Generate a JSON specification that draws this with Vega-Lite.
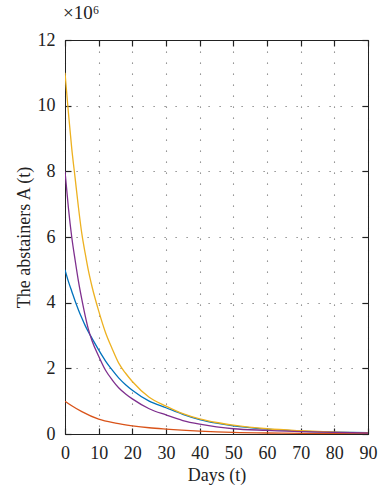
{
  "$schema": "https://vega.github.io/schema/vega-lite/v6.json",
  "width": 303,
  "height": 394,
  "autosize": "none",
  "padding": {"left": 65, "top": 40, "right": 23, "bottom": 66},
  "background": "white",
  "config": {
    "view": {"stroke": "black", "strokeWidth": 1},
    "font": "Liberation Serif",
    "axis": {
      "labelFont": "Liberation Serif",
      "titleFont": "Liberation Serif",
      "labelFontSize": 18,
      "titleFontSize": 18,
      "titleFontWeight": "normal",
      "labelColor": "#222",
      "titleColor": "#222",
      "domainColor": "#222",
      "tickColor": "#222",
      "tickWidth": 1.2,
      "gridColor": "#777",
      "gridDash": [1.2, 9.8],
      "gridWidth": 1.1
    }
  },
  "title": {
    "text": "×10⁶",
    "anchor": "start",
    "frame": "group",
    "offset": 8,
    "dx": -2,
    "font": "Liberation Serif",
    "fontSize": 19,
    "fontWeight": "normal",
    "color": "#222"
  },
  "data": {
    "values": [
      {"series": "B", "t": 0, "v": 5}, {"series": "B", "t": 1, "v": 4.65}, {"series": "B", "t": 2, "v": 4.35}, {"series": "B", "t": 3, "v": 4.05}, {"series": "B", "t": 4, "v": 3.78}, {"series": "B", "t": 5, "v": 3.53}, {"series": "B", "t": 6, "v": 3.3}, {"series": "B", "t": 7, "v": 3.1}, {"series": "B", "t": 8, "v": 2.92}, {"series": "B", "t": 10, "v": 2.56}, {"series": "B", "t": 12, "v": 2.23}, {"series": "B", "t": 14, "v": 1.95}, {"series": "B", "t": 16, "v": 1.7}, {"series": "B", "t": 18, "v": 1.5}, {"series": "B", "t": 20, "v": 1.33}, {"series": "B", "t": 25, "v": 1.0}, {"series": "B", "t": 30, "v": 0.8}, {"series": "B", "t": 35, "v": 0.6}, {"series": "B", "t": 40, "v": 0.44}, {"series": "B", "t": 45, "v": 0.33}, {"series": "B", "t": 50, "v": 0.25}, {"series": "B", "t": 60, "v": 0.15}, {"series": "B", "t": 70, "v": 0.09}, {"series": "B", "t": 80, "v": 0.06}, {"series": "B", "t": 90, "v": 0.04},
      {"series": "R", "t": 0, "v": 1}, {"series": "R", "t": 2, "v": 0.86}, {"series": "R", "t": 5, "v": 0.68}, {"series": "R", "t": 10, "v": 0.45}, {"series": "R", "t": 15, "v": 0.33}, {"series": "R", "t": 20, "v": 0.25}, {"series": "R", "t": 25, "v": 0.19}, {"series": "R", "t": 30, "v": 0.15}, {"series": "R", "t": 40, "v": 0.09}, {"series": "R", "t": 50, "v": 0.05}, {"series": "R", "t": 60, "v": 0.03}, {"series": "R", "t": 70, "v": 0.02}, {"series": "R", "t": 80, "v": 0.015}, {"series": "R", "t": 90, "v": 0.01},
      {"series": "Y", "t": 0, "v": 11}, {"series": "Y", "t": 1, "v": 9.8}, {"series": "Y", "t": 2, "v": 8.7}, {"series": "Y", "t": 3, "v": 7.8}, {"series": "Y", "t": 4, "v": 6.9}, {"series": "Y", "t": 5, "v": 6.1}, {"series": "Y", "t": 6, "v": 5.5}, {"series": "Y", "t": 7, "v": 4.95}, {"series": "Y", "t": 8, "v": 4.5}, {"series": "Y", "t": 10, "v": 3.75}, {"series": "Y", "t": 12, "v": 3.1}, {"series": "Y", "t": 14, "v": 2.6}, {"series": "Y", "t": 16, "v": 2.15}, {"series": "Y", "t": 18, "v": 1.85}, {"series": "Y", "t": 20, "v": 1.6}, {"series": "Y", "t": 25, "v": 1.12}, {"series": "Y", "t": 30, "v": 0.85}, {"series": "Y", "t": 35, "v": 0.62}, {"series": "Y", "t": 40, "v": 0.46}, {"series": "Y", "t": 45, "v": 0.35}, {"series": "Y", "t": 50, "v": 0.27}, {"series": "Y", "t": 60, "v": 0.16}, {"series": "Y", "t": 70, "v": 0.1}, {"series": "Y", "t": 80, "v": 0.06}, {"series": "Y", "t": 90, "v": 0.04},
      {"series": "P", "t": 0, "v": 8}, {"series": "P", "t": 1, "v": 6.9}, {"series": "P", "t": 2, "v": 6.0}, {"series": "P", "t": 3, "v": 5.3}, {"series": "P", "t": 4, "v": 4.65}, {"series": "P", "t": 5, "v": 4.1}, {"series": "P", "t": 6, "v": 3.6}, {"series": "P", "t": 7, "v": 3.17}, {"series": "P", "t": 8, "v": 2.85}, {"series": "P", "t": 10, "v": 2.37}, {"series": "P", "t": 12, "v": 1.95}, {"series": "P", "t": 14, "v": 1.65}, {"series": "P", "t": 16, "v": 1.4}, {"series": "P", "t": 18, "v": 1.22}, {"series": "P", "t": 20, "v": 1.07}, {"series": "P", "t": 25, "v": 0.77}, {"series": "P", "t": 30, "v": 0.58}, {"series": "P", "t": 35, "v": 0.41}, {"series": "P", "t": 40, "v": 0.3}, {"series": "P", "t": 45, "v": 0.22}, {"series": "P", "t": 50, "v": 0.16}, {"series": "P", "t": 60, "v": 0.11}, {"series": "P", "t": 70, "v": 0.07}, {"series": "P", "t": 80, "v": 0.05}, {"series": "P", "t": 90, "v": 0.03}
    ]
  },
  "layer": [
    {
      "mark": {"type": "line", "strokeWidth": 1.3, "interpolate": "monotone", "clip": true},
      "encoding": {
        "x": {
          "field": "t", "type": "quantitative",
          "scale": {"domain": [0, 90], "nice": false, "zero": false},
          "axis": {"orient": "bottom", "values": [0,10,20,30,40,50,60,70,80,90], "title": "Days (t)", "grid": true, "tickSize": -6, "labelPadding": 16, "titlePadding": 4, "labelFlush": false}
        },
        "y": {
          "field": "v", "type": "quantitative",
          "scale": {"domain": [0, 12], "nice": false},
          "axis": {"orient": "left", "values": [0,2,4,6,8,10,12], "title": "The abstainers A (t)", "grid": true, "tickSize": -6, "labelPadding": 16, "titlePadding": 4, "labelFlush": false}
        },
        "color": {
          "field": "series", "type": "nominal",
          "scale": {"domain": ["B", "R", "Y", "P"], "range": ["#0072BD", "#D95319", "#EDB120", "#7E2F8E"]},
          "legend": null
        },
        "order": {"field": "t", "type": "quantitative"}
      }
    },
    {
      "mark": {"type": "line", "opacity": 0},
      "encoding": {
        "x": {"field": "t", "type": "quantitative", "axis": {"orient": "top", "values": [0,10,20,30,40,50,60,70,80,90], "labels": false, "title": null, "grid": false, "tickSize": -6}},
        "y": {"field": "v", "type": "quantitative", "axis": {"orient": "right", "values": [0,2,4,6,8,10,12], "labels": false, "title": null, "grid": false, "tickSize": -6}},
        "detail": {"field": "series"}
      }
    }
  ],
  "resolve": {"axis": {"x": "independent", "y": "independent"}}
}
